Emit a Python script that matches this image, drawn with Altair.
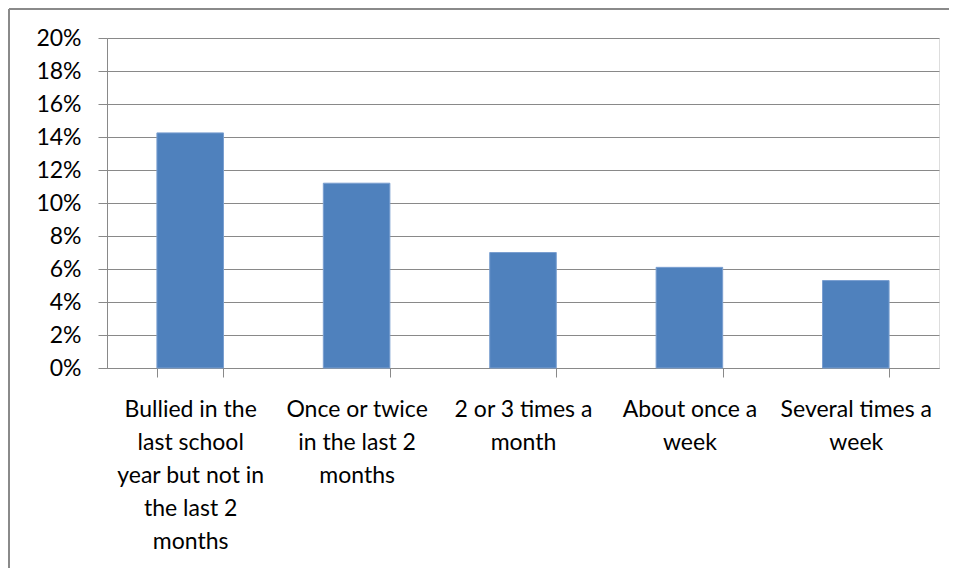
import altair as alt
import pandas as pd

categories = [
    "Bullied in the|last school|year but not in|the last 2|months",
    "Once or twice|in the last 2|months",
    "2 or 3 times a|month",
    "About once a|week",
    "Several times a|week",
]
values = [0.1425, 0.112, 0.070, 0.061, 0.053]
y_ticks = [0, 0.02, 0.04, 0.06, 0.08, 0.10, 0.12, 0.14, 0.16, 0.18, 0.20]

df = pd.DataFrame({"cat": categories, "val": values})

FONT = "Lato"
GRAY = "#898989"
SIZE = 23

bars = (
    alt.Chart(df)
    .mark_bar(color="#4f81bd", stroke="#7a9fd0", strokeWidth=1)
    .encode(
        x=alt.X(
            "cat:N",
            sort=categories,
            scale=alt.Scale(paddingInner=0.6, paddingOuter=0.3),
            axis=alt.Axis(
                title=None,
                labelAngle=0,
                labelExpr="split(datum.label, '|')",
                labelFont=FONT,
                labelFontSize=SIZE,
                labelColor="#000000",
                labelLineHeight=33,
                labelPadding=21,
                labelLimit=0,
                labelOverlap=False,
                tickBand="extent",
                tickSize=9,
                tickColor=GRAY,
                domainColor=GRAY,
                grid=False,
            ),
        ),
        y=alt.Y(
            "val:Q",
            scale=alt.Scale(domain=[0, 0.2], nice=False),
            axis=alt.Axis(
                title=None,
                values=y_ticks,
                format=".0%",
                labelFont=FONT,
                labelFontSize=SIZE,
                labelColor="#000000",
                labelPadding=17,
                tickSize=9,
                tickColor=GRAY,
                domainColor=GRAY,
                gridColor=GRAY,
                gridOpacity=1,
            ),
        ),
    )
)

# outer chart frame (left and top edges of the chart border)
frame_left = alt.Chart(df).mark_rule(color="#8a8a8a", strokeWidth=2).encode(
    x=alt.value(-98), y=alt.value(-29), y2=alt.value(600)
)
frame_top = alt.Chart(df).mark_rule(color="#8a8a8a", strokeWidth=2).encode(
    x=alt.value(-98), x2=alt.value(900), y=alt.value(-29)
)

chart = (
    alt.layer(bars, frame_left, frame_top)
    .properties(
        width=832,
        height=330,
        autosize=alt.AutoSizeParams(type="none"),
        padding={"left": 99, "top": 30, "right": 10, "bottom": 200},
    )
    .configure_view(stroke=None)
    .configure(background="white")
)

chart.save("out.html", embed_options={"renderer": "svg", "actions": False})
